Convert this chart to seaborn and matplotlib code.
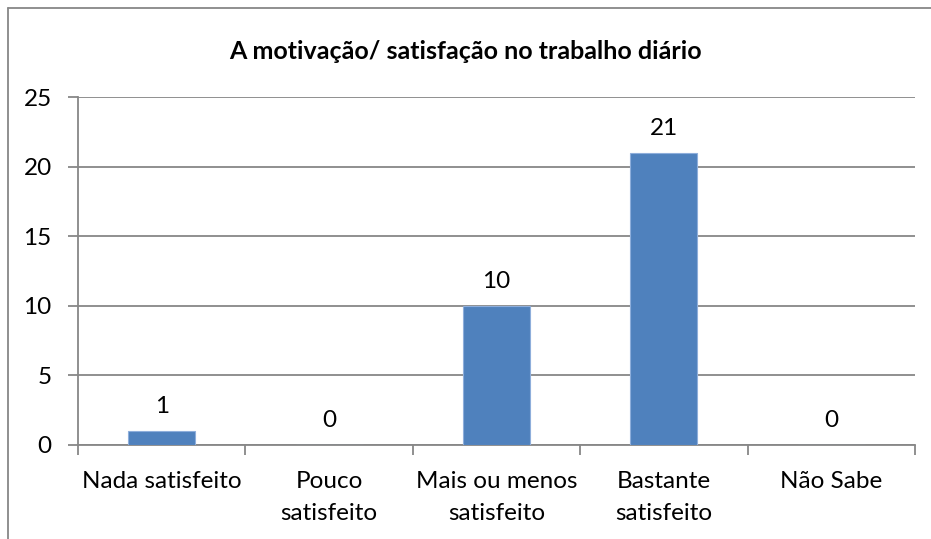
import pandas as pd
import seaborn as sns
import matplotlib.pyplot as plt
from matplotlib.lines import Line2D

# chart data
categories = ['Nada satisfeito', 'Pouco\nsatisfeito', 'Mais ou menos\nsatisfeito',
              'Bastante\nsatisfeito', 'Não Sabe']
counts = [1, 0, 10, 21, 0]
title = 'A motivação/ satisfação no trabalho diário'

df = pd.DataFrame({'categoria': categories, 'n': counts})

sns.set_theme(style='white')
plt.rcParams['font.family'] = ['Lato', 'DejaVu Sans']

grey = '#878787'
fs = 17.5
fig = plt.figure(figsize=(9.31, 5.39), dpi=100)
ax = fig.add_axes([0.0838, 0.1744, 0.8990, 0.6456])

sns.barplot(data=df, x='categoria', y='n', color='#4F81BD', width=0.4,
            saturation=1, linewidth=0.8, edgecolor='#8EAEDB', ax=ax, zorder=3)

ax.set_ylim(0, 25)
ax.set_yticks(range(0, 26, 5))
ax.set_xlim(-0.5, len(categories) - 0.5)
ax.yaxis.grid(True, color=grey, linewidth=1.3, zorder=0)
ax.set_xlabel('')
ax.set_ylabel('')

for side in ['top', 'right']:
    ax.spines[side].set_visible(False)
for side in ['left', 'bottom']:
    ax.spines[side].set_color(grey)
    ax.spines[side].set_linewidth(1.3)

# category ticks sit between the bars
ax.set_xticks([i - 0.5 for i in range(len(categories) + 1)], minor=True)
ax.tick_params(axis='x', which='minor', length=7, width=1.3, color=grey, bottom=True)
ax.tick_params(axis='x', which='major', length=0, labelsize=fs, pad=19, labelcolor='black')
ax.tick_params(axis='y', length=7, width=1.3, color=grey, labelsize=fs, pad=12,
               labelcolor='black', left=True)
for lab in ax.get_xticklabels():
    lab.set_linespacing(1.6)
    lab.set_verticalalignment('top')

for i, v in enumerate(counts):
    ax.annotate(str(v), (i, v), xytext=(0, 10), textcoords='offset points',
                ha='center', va='bottom', fontsize=fs, color='black')

fig.text(0.5, 0.905, title, ha='center', va='center', fontsize=18,
         fontweight='bold', color='black')

# outer chart border (runs off the right and bottom of the picture)
fig.add_artist(Line2D([8 / 931, 1.0], [1 - 8 / 539, 1 - 8 / 539], color=grey,
                      linewidth=1.3, transform=fig.transFigure))
fig.add_artist(Line2D([8 / 931, 8 / 931], [0.0, 1 - 8 / 539], color=grey,
                      linewidth=1.3, transform=fig.transFigure))

fig.savefig('out.png', dpi=100)
